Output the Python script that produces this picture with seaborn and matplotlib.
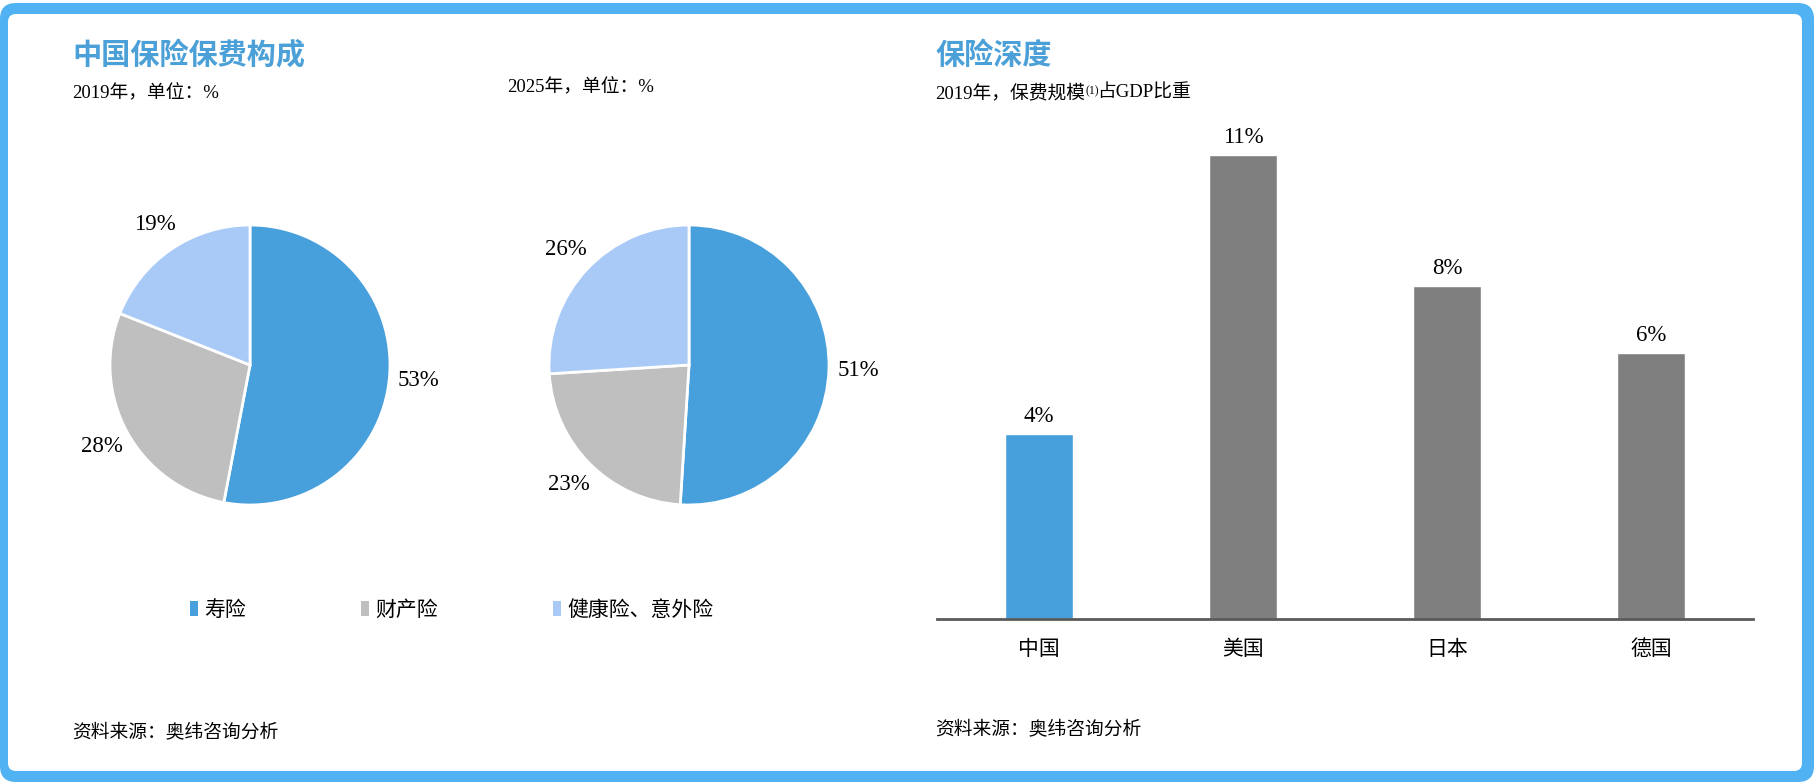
import numpy as np
import pandas as pd
import matplotlib
matplotlib.use('Agg')
import matplotlib.pyplot as plt
import matplotlib.transforms as mtransforms
from matplotlib.patches import FancyBboxPatch, Patch
import seaborn as sns

# ── Data ───────────────────────────────────────────────────
segments = ['寿险', '财产险', '健康险、意外险']
share_2019 = [53, 28, 19]
share_2025 = [51, 23, 26]

countries = ['中国', '美国', '日本', '德国']
depth_2019 = [4.4, 11.0, 7.9, 6.3]

# ── Style ──────────────────────────────────────────────────
sns.set_theme(style='white')
plt.rcParams['font.family'] = ['Noto Sans CJK SC', 'DejaVu Sans']
plt.rcParams['text.color'] = 'black'
SERIF = ['Liberation Serif', 'Noto Sans CJK SC']
CJK = ['Noto Sans CJK SC', 'DejaVu Sans']

BLUE = '#479FDB'
GREY = '#BFBFBF'
LIGHT = '#A9CAF7'
BAR_GREY = '#7F7F7F'
TITLE = '#4BA0D8'
FRAME = '#50B2F2'
pie_colors = [BLUE, GREY, LIGHT]

W, H = 1814, 782
fig = plt.figure(figsize=(W / 100, H / 100), dpi=100)
fig.patch.set_facecolor('white')

# ── Rounded blue frame (pixel coords) ──────────────────────
ident = mtransforms.IdentityTransform()
fig.patches.append(FancyBboxPatch((0, 0), W, H - 3, boxstyle='round,pad=0,rounding_size=16',
                                  transform=ident, facecolor=FRAME, edgecolor='none', zorder=-5))
fig.patches.append(FancyBboxPatch((8, 11), W - 20, H - 25, boxstyle='round,pad=0,rounding_size=8',
                                  transform=ident, facecolor='white', edgecolor='none', zorder=-4))


def fx(px):
    return px / W


def fy(py):
    return 1 - py / H


# ── Pies ───────────────────────────────────────────────────
def draw_pie(cx, cy, values):
    r = 210
    ax = fig.add_axes([fx(cx - r), fy(cy + r), r * 2 / W, r * 2 / H])
    ax.patch.set_alpha(0)
    wedges, _, autotexts = ax.pie(values, colors=pie_colors, startangle=90, counterclock=False,
                                  autopct=lambda p: f'{p:.0f}%', pctdistance=1.21,
                                  wedgeprops=dict(edgecolor='white', linewidth=2))
    for t in autotexts:
        t.set_fontfamily(SERIF)
        t.set_fontsize(16.5)
        t.set_color('black')
    ax.set_xlim(-1.5, 1.5)
    ax.set_ylim(-1.5, 1.5)
    ax.axis('off')
    return wedges


draw_pie(250, 365, share_2019)
draw_pie(689, 365, share_2025)

handles = [Patch(facecolor=c, edgecolor='none') for c in pie_colors]
fig.legend(handles, segments, loc='center left', bbox_to_anchor=(fx(190), fy(610)),
           ncol=3, frameon=False, fontsize=15, handlelength=0.4, handleheight=0.75,
           handletextpad=0.3, columnspacing=5.5, borderpad=0, borderaxespad=0,
           labelcolor='black')

# ── Bars ───────────────────────────────────────────────────
bar_df = pd.DataFrame({'country': countries, 'depth': depth_2019})
axb = fig.add_axes([fx(937), fy(619), 816 / W, 489 / H])
axb.patch.set_alpha(0)
sns.barplot(data=bar_df, x='country', y='depth', hue='country', legend=False,
            palette=[BLUE, BAR_GREY, BAR_GREY, BAR_GREY], width=0.33, saturation=1, ax=axb)
axb.set_ylim(0, 11.6)
axb.set_xlim(-0.5, 3.5)
for c in axb.containers:
    axb.bar_label(c, labels=[f'{v:.0f}%' for v in c.datavalues], padding=5,
                  fontsize=16.5, family=SERIF, color='black')
sns.despine(ax=axb, left=True)
axb.spines['bottom'].set_color('#595959')
axb.spines['bottom'].set_linewidth(2)
axb.set_yticks([])
axb.set_xlabel('')
axb.set_ylabel('')
axb.tick_params(axis='x', length=0, pad=14, labelsize=15, labelcolor='black')

# ── Titles & notes ─────────────────────────────────────────
fig.text(fx(72), fy(55), '中国保险保费构成', fontsize=21, fontweight='bold', color=TITLE,
         va='center', family=CJK)
fig.text(fx(72), fy(93), '2019年，单位：%', fontsize=13.5, va='center', family=SERIF)
fig.text(fx(507), fy(87), '2025年，单位：%', fontsize=13.5, va='center', family=SERIF)

fig.text(fx(935), fy(55), '保险深度', fontsize=21, fontweight='bold', color=TITLE,
         va='center', family=CJK)
t1 = fig.text(fx(935), fy(93), '2019年，保费规模', fontsize=13.5, va='center', family=SERIF)
axb.annotate('(1)', xy=(1, 0.92), xycoords=t1, fontsize=8.5, family=SERIF,
             va='top', ha='left', annotation_clip=False)
axb.annotate('占GDP比重', xy=(1, 0.5), xycoords=t1, xytext=(9, 0), textcoords='offset points',
             fontsize=13.5, family=SERIF, va='center', ha='left', annotation_clip=False)

fig.text(fx(72), fy(733), '资料来源：奥纬咨询分析', fontsize=13.5, va='center', family=SERIF)
fig.text(fx(935), fy(730), '资料来源：奥纬咨询分析', fontsize=13.5, va='center', family=SERIF)

plt.savefig('out.png', dpi=100, facecolor='white')
